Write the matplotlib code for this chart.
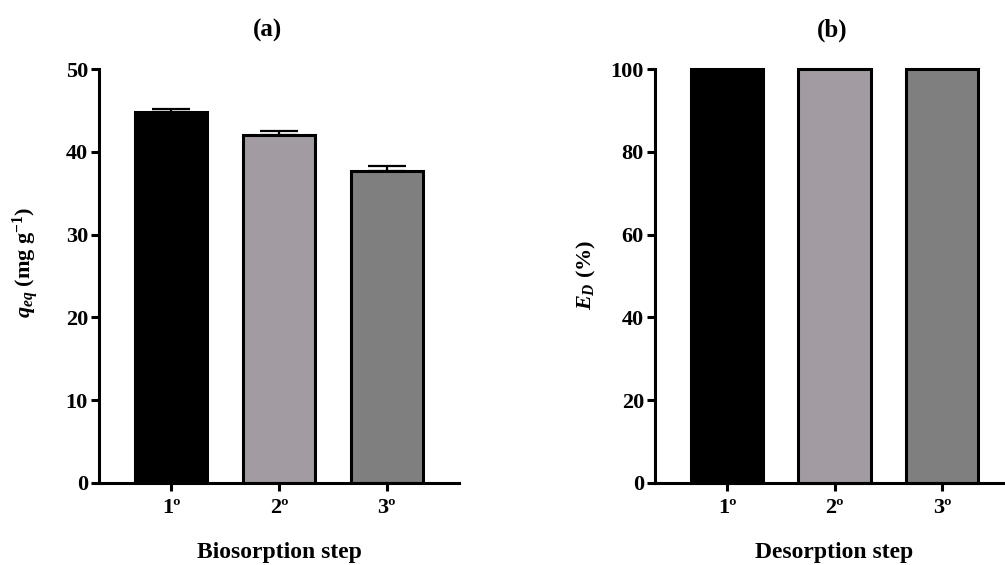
import matplotlib
matplotlib.use("Agg")
import matplotlib.pyplot as plt
import numpy as np

plt.rcParams['font.family'] = ['Liberation Serif', 'DejaVu Serif']
plt.rcParams['font.weight'] = 'bold'
plt.rcParams['mathtext.fontset'] = 'custom'
plt.rcParams['mathtext.rm'] = 'Liberation Serif:bold'
plt.rcParams['mathtext.it'] = 'Liberation Serif:bold:italic'
plt.rcParams['mathtext.bf'] = 'Liberation Serif:bold'

steps = ['1º', '2º', '3º']
q_eq = [44.8, 42.0, 37.7]
q_err = [0.4, 0.5, 0.6]
e_d = [100, 100, 100]
colors = ['#000000', '#a29ca2', '#7f7f7f']

W, H = 1005, 565
fig = plt.figure(figsize=(W / 100, H / 100), dpi=100)

def px_axes(l, r, t, b):
    return fig.add_axes([l / W, 1 - b / H, (r - l) / W, (b - t) / H])

ax1 = px_axes(99, 459, 69, 483)
ax2 = px_axes(655, 1014, 69, 483)

def style(ax, ylim, yticks):
    x = np.arange(len(steps))
    ax.set_xlim(-0.67, 2.67)
    ax.set_ylim(*ylim)
    ax.set_yticks(yticks)
    ax.set_xticks(x)
    ax.set_xticklabels(steps)
    for s in ['top', 'right']:
        ax.spines[s].set_visible(False)
    for s in ['left', 'bottom']:
        ax.spines[s].set_linewidth(2.2)
    ax.tick_params(axis='both', length=6, width=2.2, labelsize=16, pad=2)
    ax.tick_params(axis='x', pad=5)
    for lab in ax.get_xticklabels() + ax.get_yticklabels():
        lab.set_fontweight('bold')

x = np.arange(len(steps))
ax1.bar(x, q_eq, width=0.67, color=colors, edgecolor='black', linewidth=2.2, zorder=2)
ax1.errorbar(x, q_eq, yerr=[np.zeros(3), q_err], fmt='none', ecolor='black',
             elinewidth=1.6, capsize=14, capthick=1.6, zorder=1)
style(ax1, (0, 50), [0, 10, 20, 30, 40, 50])
ax1.set_xlabel('Biosorption step', fontsize=17, fontweight='bold', labelpad=17)
ax1.set_ylabel(r'$q_{eq}$ (mg g$^{\mathbf{-1}}$)', fontsize=16, fontweight='bold')
ax1.yaxis.set_label_coords(-0.162, 0.534)

ax2.bar(x, e_d, width=0.67, color=colors, edgecolor='black', linewidth=2.2, zorder=2, clip_on=False)
style(ax2, (0, 100), [0, 20, 40, 60, 80, 100])
ax2.set_xlabel('Desorption step', fontsize=17, fontweight='bold', labelpad=17)
ax2.set_ylabel(r'$E_D$ (%)', fontsize=16, fontweight='bold')
ax2.yaxis.set_label_coords(-0.16, 0.502)

fig.text(268 / W, 1 - 30 / H, '(a)', ha='center', va='center', fontsize=18, fontweight='bold')
fig.text(832 / W, 1 - 30 / H, '(b)', ha='center', va='center', fontsize=18, fontweight='bold')

fig.savefig('out.png', dpi=100)
